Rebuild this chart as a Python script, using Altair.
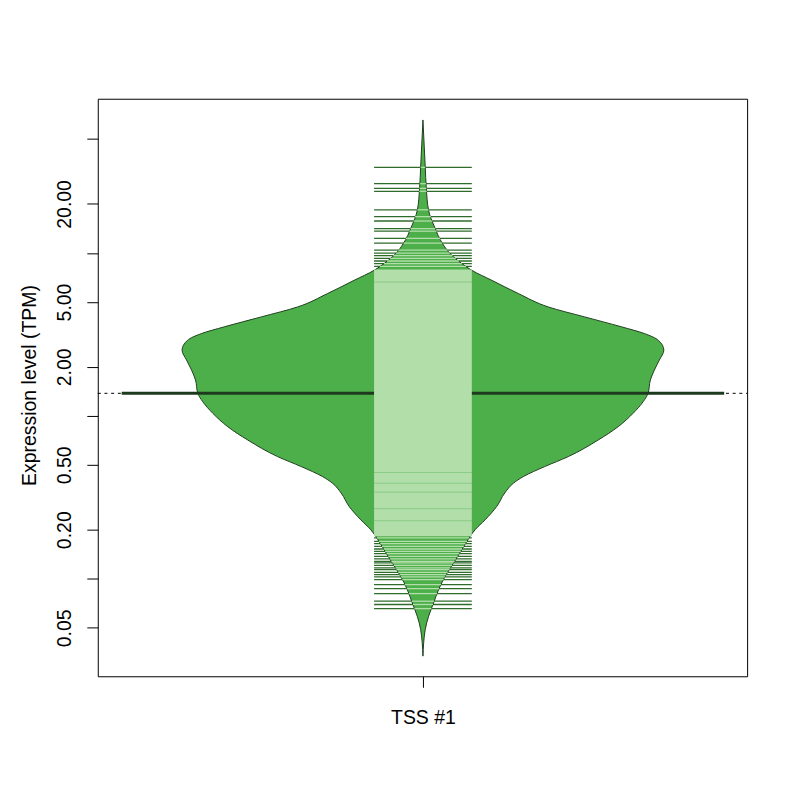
import altair as alt

# ---------------- data ----------------
# bean outline: expression value (TPM) and half-width of the bean (pixel-like units)
bean_value = [65.5, 33.6, 25.3, 18.2, 14.4, 11.4, 9.9, 8.6, 7.82, 6.79, 5.63, 4.66,
              4.05, 3.52, 3.20, 2.91, 2.53, 2.20, 1.91, 1.66, 1.375, 1.22, 1.037,
              0.858, 0.711, 0.562, 0.488, 0.424, 0.386, 0.336, 0.278, 0.230, 0.200,
              0.182, 0.151, 0.125, 0.1035, 0.0858, 0.0711, 0.0589, 0.0488, 0.0335]
bean_halfwidth = [0, 2.3, 3.3, 5.7, 11.7, 19.7, 27.3, 39, 49, 69, 95.7, 125.7,
                  162, 199, 222, 236, 241.5, 237, 232, 228, 225.7, 220.7, 210.7,
                  195.7, 175.7, 145.7, 122, 100.7, 90.7, 82, 74, 62.3, 52.3,
                  47.3, 39, 30.7, 22.3, 15.7, 10.7, 5.7, 2.3, 0]

# individual bean lines in the upper and lower tails
top_lines = [33.5, 26.6, 24.9, 23.9, 18.4, 16.7, 15.7, 14.1, 13.6, 12.3, 11.5,
             10.4, 9.98, 9.62, 9.26, 8.92, 8.60, 8.27]
bottom_lines = [0.178, 0.1696, 0.1642, 0.1580, 0.1523, 0.1473, 0.1426, 0.1373,
                0.1323, 0.1279, 0.1251, 0.1209, 0.1165, 0.1138, 0.1095, 0.1061,
                0.1027, 0.0988, 0.0921, 0.0870, 0.0811, 0.0728, 0.0695, 0.0656]
# range where bean lines are so dense they merge into a solid band
dense_low = 0.1824
dense_high = 7.9
# small gaps between lines inside the dense band
gap_lines = [6.63, 0.449, 0.386, 0.340, 0.269, 0.227]
# bean average (geometric mean)
mean_value = 1.375

category = "TSS #1"
y_ticks = [0.05, 0.1, 0.2, 0.5, 1, 2, 5, 10, 20, 50]
y_labelled = [0.05, 0.2, 0.5, 2, 5, 20]

# ---------------- styles ----------------
GREEN = "#4DAF4A"
LIGHT = "#B2DEAA"
DARKLINE = "#2F6B2B"
BORDER = "#1F3F1F"
AVG = "#1E3A1E"
FONT = "Liberation Sans"
BAND = 49          # half-width of the bean-line band
AVG_HALF = 302     # half-width of the average line
W, H = 651, 579

tail_lines = top_lines + bottom_lines
edge_rows = [{"v": v, "w": w} for v, w in zip(bean_value, bean_halfwidth)]
rows = [{"v": v, "w": w, "kind": "edge"} for v, w in zip(bean_value, bean_halfwidth)]
rows += [{"v": v, "kind": "line"} for v in tail_lines]

labelled_js = "[" + ",".join(str(v) for v in y_labelled) + "]"

YSCALE = alt.Scale(type="log", domain=[0.0252, 88.4], nice=False, zero=False)
XSCALE = alt.Scale(domain=[-326, 325], nice=False, zero=False)
YAXIS = alt.Axis(
    values=y_ticks,
    labelExpr=f"indexof({labelled_js}, datum.value) >= 0 ? format(datum.value, '.2f') : ''",
    title="Expression level (TPM)",
    grid=False, domain=False, tickSize=11, tickColor="black", tickWidth=1,
    labelAngle=270, labelAlign="center", labelBaseline="alphabetic",
    labelPadding=16, labelFont=FONT, labelFontSize=19.5, labelColor="black",
    labelOverlap=False, labelFlush=False,
    titleAngle=270, titleX=-62, titleY=287, titleAlign="center",
    titleBaseline="alphabetic", titleFont=FONT, titleFontSize=19.5,
    titleFontWeight="normal", titleColor="black",
)
XAXIS = alt.Axis(
    values=[0], labelExpr=f"'{category}'", title=None, grid=False, domain=False,
    tickSize=11, tickColor="black", tickWidth=1, labelPadding=36,
    labelBaseline="alphabetic", labelAlign="center", labelFont=FONT,
    labelFontSize=19.5, labelColor="black", labelFlush=False, labelOverlap=False,
)


def yenc(f):
    return alt.Y(f"{f}:Q", scale=YSCALE, axis=YAXIS)


def xenc(f):
    return alt.X(f"{f}:Q", scale=XSCALE, axis=XAXIS, stack=None)


# overall average: dotted across the plot
dotted = alt.Chart(alt.InlineData(values=[{"m": mean_value}])).mark_rule(
    color="black", strokeWidth=1, strokeDash=[3, 3.7]
).encode(y=yenc("m"), x=alt.value(0), x2=alt.value("width"))

# bean lines outside the bean (dark, full band width)
dark_lines = alt.Chart(alt.InlineData(values=[{"v": v} for v in tail_lines])).transform_calculate(
    xl=f"-{BAND}", xr=f"{BAND}"
).mark_rule(color=DARKLINE, strokeWidth=1.3).encode(
    y=yenc("v"), x=xenc("xl"), x2=alt.X2("xr")
)

# bean
bean = alt.Chart(alt.InlineData(values=edge_rows)).transform_calculate(
    xl="-datum.w", xr="datum.w"
).mark_area(
    orient="horizontal", interpolate="monotone", fill=GREEN, stroke=BORDER,
    strokeWidth=1, fillOpacity=1
).encode(y=yenc("v"), x=xenc("xl"), x2=alt.X2("xr"))

# bean average line
avg = alt.Chart(alt.InlineData(values=[{"m": mean_value}])).transform_calculate(
    xl=f"-{AVG_HALF}", xr=f"{AVG_HALF}"
).mark_rule(color=AVG, strokeWidth=3).encode(
    y=yenc("m"), x=xenc("xl"), x2=alt.X2("xr")
)

# dense block of bean lines
dense = alt.Chart(alt.InlineData(values=[{"lo": dense_low, "hi": dense_high}])).transform_calculate(
    xl=f"-{BAND}", xr=f"{BAND}"
).mark_rect(color=LIGHT).encode(
    y=yenc("lo"), y2=alt.Y2("hi"), x=xenc("xl"), x2=alt.X2("xr")
)

gaps = alt.Chart(alt.InlineData(values=[{"v": v} for v in gap_lines])).transform_calculate(
    xl=f"-{BAND}", xr=f"{BAND}"
).mark_rule(color=GREEN, strokeWidth=1, opacity=0.4).encode(
    y=yenc("v"), x=xenc("xl"), x2=alt.X2("xr")
)

# bean lines inside the bean (light), clipped to the bean outline
lookup_src = alt.InlineData(values=edge_rows)
inner = (
    alt.Chart(alt.InlineData(values=rows))
    .transform_calculate(vlo="datum.kind == 'edge' ? datum.v : -1")
    .transform_calculate(vhi="datum.kind == 'edge' ? datum.v : 1e9")
    .transform_window(vb="max(vlo)", frame=[None, 0],
                      sort=[alt.SortField("v", order="ascending")])
    .transform_window(va="min(vhi)", frame=[None, 0],
                      sort=[alt.SortField("v", order="descending")])
    .transform_filter("datum.kind == 'line'")
    .transform_lookup(lookup="vb", from_=alt.LookupData(data=lookup_src, key="v", fields=["w"]), as_=["wb"])
    .transform_lookup(lookup="va", from_=alt.LookupData(data=lookup_src, key="v", fields=["w"]), as_=["wa"])
    .transform_calculate(
        t="datum.va == datum.vb ? 0 : (log(datum.v) - log(datum.vb)) / (log(datum.va) - log(datum.vb))"
    )
    .transform_calculate(hw=f"min({BAND}, datum.wb + (datum.wa - datum.wb) * datum.t)")
    .transform_calculate(xl="-datum.hw")
    .transform_calculate(xr="datum.hw")
    .mark_rule(color=LIGHT, strokeWidth=1.3)
    .encode(y=yenc("v"), x=xenc("xl"), x2=alt.X2("xr"))
)

chart = (
    alt.layer(dotted, dark_lines, bean, avg, dense, gaps, inner)
    .properties(
        width=W, height=H,
        padding={"left": 90, "top": 90, "right": 45, "bottom": 100},
        autosize=alt.AutoSizeParams(type="none"),
        background="white",
    )
    .configure_view(stroke="black", strokeWidth=1)
)

chart.save("out.html", embed_options={"renderer": "svg", "actions": False})
